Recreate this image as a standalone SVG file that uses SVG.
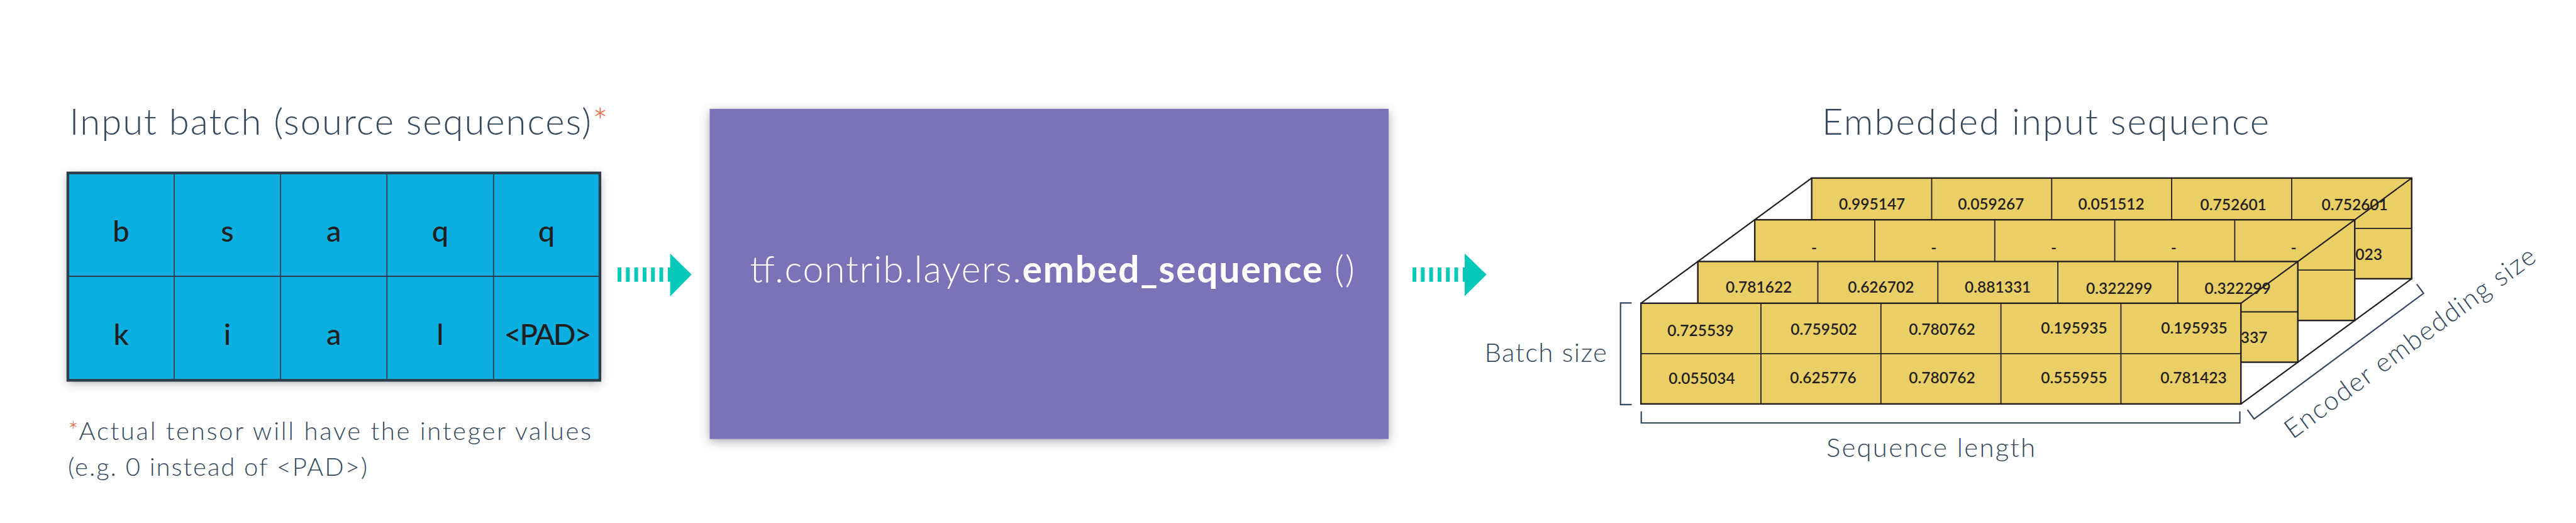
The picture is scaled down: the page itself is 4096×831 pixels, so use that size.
<svg xmlns="http://www.w3.org/2000/svg" width="4096" height="831" viewBox="0 0 4096 831">
<defs>
<filter id="shadow" x="-10%" y="-10%" width="120%" height="125%">
<feDropShadow dx="0" dy="4" stdDeviation="8" flood-color="#000" flood-opacity="0.32"/>
</filter>
<style>
text{font-family:Lato,'Open Sans','Liberation Sans',sans-serif}
.title{font-size:58px;font-weight:300;fill:#34495e}
.label{font-size:42px;font-weight:300;fill:#34495e}
.note{font-size:40px;font-weight:300;fill:#34495e}
.star{fill:#f4623a}
.cellc{font-size:47px;font-weight:500;fill:#1f1f1f;text-anchor:middle}
.num{font-size:24.5px;font-weight:600;fill:#231f20;text-anchor:middle}
.numend{font-size:24.5px;font-weight:600;fill:#231f20;text-anchor:end}
.slab{fill:#eacf66;stroke:#231f20;stroke-width:2.4}
.grid{stroke:#231f20;stroke-width:1.8;fill:none}
.tgrid{stroke:#2e3d4b;stroke-width:1.8;fill:none}
.bracket{stroke:#34495e;stroke-width:2.2;fill:none}
.edge{stroke:#231f20;stroke-width:2.2;fill:none}
.dash{stroke:#07c9b8;stroke-width:22.7;stroke-dasharray:6 7.3}
.head{fill:#07c9b8}
</style>
</defs>
<rect width="4096" height="831" fill="#ffffff"/>

<g id="input-title">
<text class="title" x="110.6" y="214" textLength="856">Input batch (source sequences)<tspan class="star">*</tspan></text>
</g>

<g id="input-batch">
<rect x="107.9" y="274.8" width="846" height="329.5" fill="#08afe1" filter="url(#shadow)"/>
<path class="tgrid" d="M107.9,439H953.9M277,274.8V604.3M446,274.8V604.3M615.2,274.8V604.3M784.8,274.8V604.3"/>
<rect x="107.9" y="274.8" width="846" height="329.5" fill="none" stroke="#2e3d4b" stroke-width="4.3"/>
<text class="cellc" x="192.5" y="384">b</text>
<text class="cellc" x="361.5" y="384">s</text>
<text class="cellc" x="530.7" y="384">a</text>
<text class="cellc" x="699.9" y="384">q</text>
<text class="cellc" x="869" y="384">q</text>
<text class="cellc" x="192.5" y="548">k</text>
<text class="cellc" x="361.5" y="548">i</text>
<text class="cellc" x="530.7" y="548">a</text>
<text class="cellc" x="699.9" y="548">l</text>
<text class="cellc" x="871" y="548" textLength="139">&lt;PAD&gt;</text>
</g>

<g id="footnote">
<text class="note" x="108" y="699" textLength="832"><tspan class="star">*</tspan>Actual tensor will have the integer values</text>
<text class="note" x="108" y="755.6" textLength="476">(e.g. 0 instead of &lt;PAD&gt;)</text>
</g>

<g id="embed-op">
<rect x="1128.4" y="172.9" width="1079.7" height="524.7" fill="#7b72b8" filter="url(#shadow)"/>
<text x="1192.4" y="449.3" font-size="59" fill="#ffffff" textLength="961.5"><tspan font-weight="300">tf.contrib.layers.</tspan><tspan font-weight="700">embed_sequence</tspan><tspan font-weight="300"> ()</tspan></text>
</g>

<g id="connectors">
<line class="dash" x1="982" y1="436.3" x2="1066" y2="436.3"/>
<polygon class="head" points="1065.6,402.7 1099.7,436.3 1065.6,471"/>
<line class="dash" x1="2246" y1="436.3" x2="2330" y2="436.3"/>
<polygon class="head" points="2329,402.7 2363.7,436.3 2329,470.5"/>
</g>

<g id="output-title">
<text class="title" x="2897" y="213.5" textLength="711">Embedded input sequence</text>
</g>

<g id="embedded-tensor">
<g id="slab-3">
<rect class="slab" x="2880.7" y="282.9" width="954" height="160"/>
<path class="grid" d="M2880.7,362.9H3834.7M3071.5,282.9V442.9M3262.3,282.9V442.9M3453.1,282.9V442.9M3643.9,282.9V442.9"/>
<text class="num" x="2976.7" y="332.8">0.995147</text>
<text class="num" x="3165.8" y="332.8">0.059267</text>
<text class="num" x="3357.1" y="332.8">0.051512</text>
<text class="num" x="3551.2" y="334.4">0.752601</text>
<text class="num" x="3744.1" y="334.4">0.752601</text>
<text class="numend" x="3788" y="412.5">023</text>
</g>
<g id="slab-2">
<rect class="slab" x="2790.2" y="349.2" width="954" height="160"/>
<path class="grid" d="M2790.2,429.2H3744.2M2981,349.2V509.2M3171.8,349.2V509.2M3362.6,349.2V509.2M3553.4,349.2V509.2"/>
<text class="num" x="2884.5" y="402">-</text>
<text class="num" x="3074.8" y="402">-</text>
<text class="num" x="3265.6" y="402">-</text>
<text class="num" x="3456.3" y="402">-</text>
<text class="num" x="3647.1" y="402">-</text>
</g>
<g id="slab-1">
<rect class="slab" x="2699.7" y="415.5" width="954" height="160"/>
<path class="grid" d="M2699.7,495.5H3653.7M2890.5,415.5V575.5M3081.3,415.5V575.5M3272.1,415.5V575.5M3462.9,415.5V575.5"/>
<text class="num" x="2796.7" y="465">0.781622</text>
<text class="num" x="2990.8" y="465">0.626702</text>
<text class="num" x="3176.7" y="465">0.881331</text>
<text class="num" x="3369.6" y="467">0.322299</text>
<text class="num" x="3558.2" y="467">0.322299</text>
<text class="numend" x="3605.4" y="545.3">337</text>
</g>
<g id="slab-0">
<rect class="slab" x="2609.2" y="481.8" width="954" height="160"/>
<path class="grid" d="M2609.2,561.8H3563.2M2800,481.8V641.8M2990.8,481.8V641.8M3181.6,481.8V641.8M3372.4,481.8V641.8"/>
<text class="num" x="2704" y="534.4">0.725539</text>
<text class="num" x="2900" y="531.7">0.759502</text>
<text class="num" x="3088" y="531.7">0.780762</text>
<text class="num" x="3298" y="529.5">0.195935</text>
<text class="num" x="3489" y="529.5">0.195935</text>
<text class="num" x="2706" y="610">0.055034</text>
<text class="num" x="2899" y="609">0.625776</text>
<text class="num" x="3088" y="609">0.780762</text>
<text class="num" x="3298" y="609">0.555955</text>
<text class="num" x="3488" y="609">0.781423</text>
</g>
<path class="edge" d="M2609.2,481.8L2880.7,282.9M3563.2,481.8L3834.7,282.9M3563.2,641.8L3834.7,442.9"/>
</g>

<g id="batch-size">
<path class="bracket" d="M2594.5,481.3H2576.7V642.8H2594.5"/>
<text class="label" x="2360.4" y="575" textLength="194.6">Batch size</text>
</g>

<g id="sequence-length">
<path class="bracket" d="M2609.7,653.6V672H3561.5V653.6"/>
<text class="label" x="2904" y="726" textLength="332">Sequence length</text>
</g>

<g id="embedding-size">
<path class="bracket" d="M3573.5,651.1L3584.2,665.6L3853.6,466.1L3842.9,451.6"/>
<text class="label" transform="translate(3645.5,698.6) rotate(-36.2)" x="0" y="0" textLength="483">Encoder embedding size</text>
</g>
</svg>
